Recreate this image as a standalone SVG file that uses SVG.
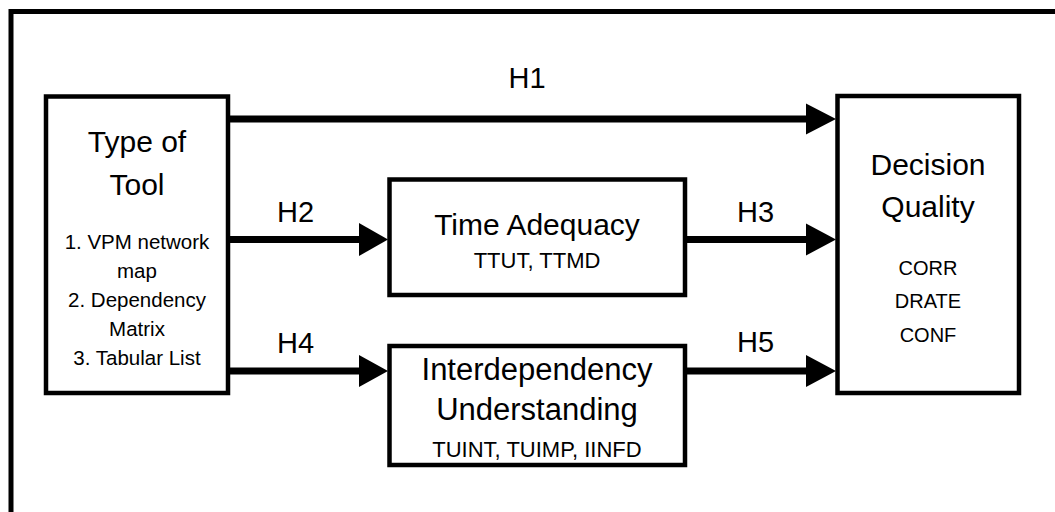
<svg xmlns="http://www.w3.org/2000/svg" width="1055" height="512" viewBox="0 0 1055 512">
<style>
.box{fill:#fff;stroke:#000;stroke-width:4.5}
.t{font-family:"Liberation Sans",Arial,sans-serif;fill:#000;text-anchor:middle}
.big{font-size:30px}
.mid{font-size:22px}
.sm{font-size:20.5px}
.lbl{font-size:29px}
.edge{stroke:#000;stroke-width:7;fill:none}
.head{fill:#000}
</style>
<rect width="1055" height="512" fill="#fff"/>
<path d="M11,512 V11.5 H1055" fill="none" stroke="#000" stroke-width="5"/>
<g id="connectors">
  <g id="e-h1"><line class="edge" x1="228" y1="119" x2="808" y2="119"/><polygon class="head" points="836,119 806,103.5 806,134.5"/></g>
  <g id="e-h2"><line class="edge" x1="228" y1="239.5" x2="361" y2="239.5"/><polygon class="head" points="388,239.5 359,223 359,256"/></g>
  <g id="e-h3"><line class="edge" x1="685" y1="239.5" x2="808" y2="239.5"/><polygon class="head" points="836,239.5 806,223.5 806,255.5"/></g>
  <g id="e-h4"><line class="edge" x1="228" y1="371" x2="361" y2="371"/><polygon class="head" points="388,371 359,355 359,387"/></g>
  <g id="e-h5"><line class="edge" x1="685" y1="371" x2="808" y2="371"/><polygon class="head" points="836,371 806,355 806,387"/></g>
  <text class="t lbl" x="527" y="88">H1</text>
  <text class="t lbl" x="295.5" y="222">H2</text>
  <text class="t lbl" x="755.5" y="222">H3</text>
  <text class="t lbl" x="295.5" y="353">H4</text>
  <text class="t lbl" x="755.5" y="352">H5</text>
</g>
<g id="n-tool">
  <rect class="box" x="46" y="96.5" width="182" height="296.5"/>
  <text class="t big" x="137" y="152">Type of</text>
  <text class="t big" x="137" y="195">Tool</text>
  <text class="t sm" x="137" y="249">1. VPM network</text>
  <text class="t sm" x="137" y="278">map</text>
  <text class="t sm" x="137" y="307">2. Dependency</text>
  <text class="t sm" x="137" y="336">Matrix</text>
  <text class="t sm" x="137" y="365">3. Tabular List</text>
</g>
<g id="n-time">
  <rect class="box" x="389.5" y="179.5" width="295.5" height="115.5"/>
  <text class="t big" x="537" y="235">Time Adequacy</text>
  <text class="t mid" x="537" y="268">TTUT, TTMD</text>
</g>
<g id="n-inter">
  <rect class="box" x="389.5" y="346" width="295.5" height="119"/>
  <text class="t big" x="537" y="380" style="font-size:31px">Interdependency</text>
  <text class="t big" x="537" y="420" style="font-size:31px">Understanding</text>
  <text class="t mid" x="537" y="457">TUINT, TUIMP, IINFD</text>
</g>
<g id="n-dq">
  <rect class="box" x="837.5" y="96" width="181.5" height="297"/>
  <text class="t big" x="928" y="175">Decision</text>
  <text class="t big" x="928" y="217">Quality</text>
  <text class="t sm" x="928" y="275" style="font-size:20px">CORR</text>
  <text class="t sm" x="928" y="308" style="font-size:20px">DRATE</text>
  <text class="t sm" x="928" y="342" style="font-size:20px">CONF</text>
</g>
</svg>
